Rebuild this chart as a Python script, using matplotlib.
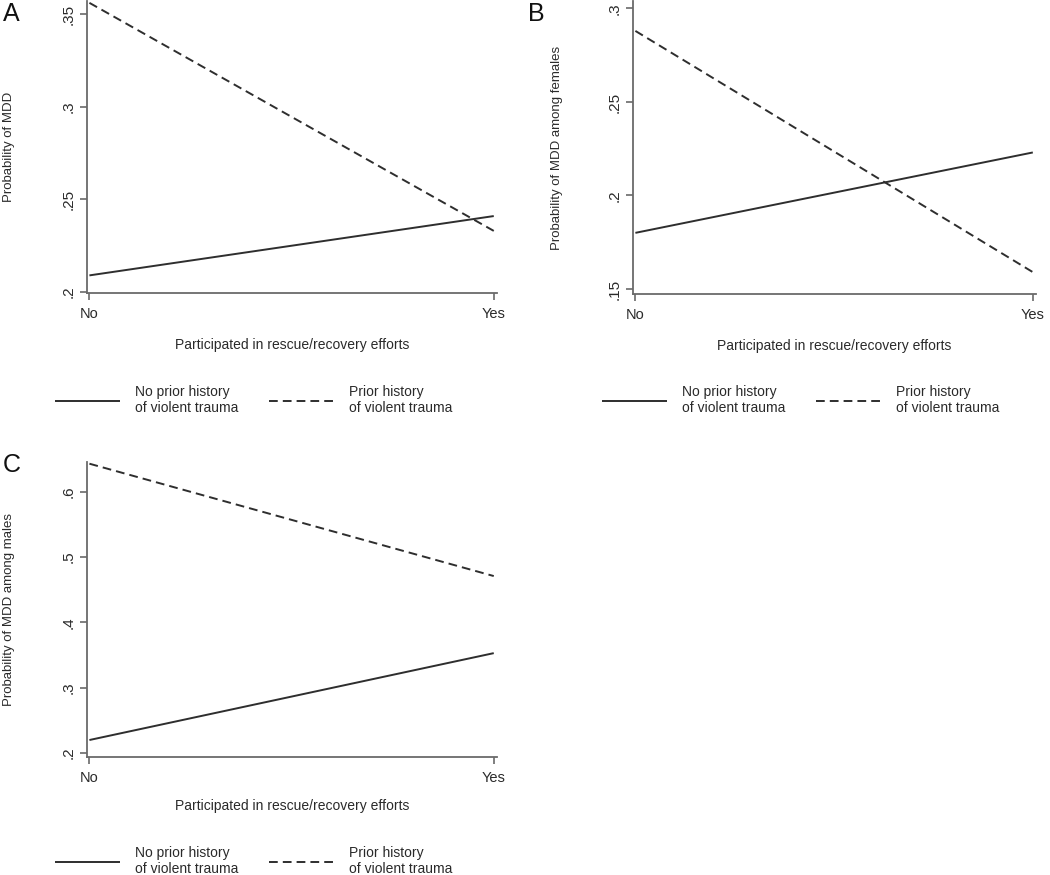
import matplotlib
matplotlib.use('Agg')
import matplotlib.pyplot as plt

plt.rcParams['font.family'] = ['Liberation Sans', 'DejaVu Sans']

# x categories
x_labels = ['No', 'Yes']
x_pos = [0, 1]

# predicted probabilities
a_no_hist = [0.209, 0.241]
a_hist = [0.356, 0.233]
b_no_hist = [0.180, 0.223]
b_hist = [0.288, 0.159]
c_no_hist = [0.220, 0.353]
c_hist = [0.643, 0.471]

a_ticks = [0.2, 0.25, 0.3, 0.35]
a_ticklabels = ['.2', '.25', '.3', '.35']
b_ticks = [0.15, 0.2, 0.25, 0.3]
b_ticklabels = ['.15', '.2', '.25', '.3']
c_ticks = [0.2, 0.3, 0.4, 0.5, 0.6]
c_ticklabels = ['.2', '.3', '.4', '.5', '.6']

leg_labels = ['No prior history\nof violent trauma', 'Prior history\nof violent trauma']

line_col = '#2e2e2e'
axis_col = '#6a6a6a'
text_col = '#2a2a2a'
W, H = 1050, 875


def px_rect(left, top, right, bottom):
    return [left / W, 1 - bottom / H, (right - left) / W, (bottom - top) / H]


def draw_panel(fig, rect, no_hist, hist, ticks, ticklabels, ylim, ylabel, letter,
               letter_xy, ylab_x, leg_xy, xlab_pad):
    ax = fig.add_axes(px_rect(*rect))
    ax.plot(x_pos, no_hist, color=line_col, lw=1.4, solid_capstyle='butt')
    ax.plot(x_pos, hist, color=line_col, lw=1.4, dashes=(4.5, 2.6))
    ax.set_xlim(-0.006, 1.008)
    ax.set_ylim(*ylim)
    for s in ['top', 'right']:
        ax.spines[s].set_visible(False)
    for s in ['left', 'bottom']:
        ax.spines[s].set_color(axis_col)
        ax.spines[s].set_linewidth(1.3)
    ax.set_xticks(x_pos)
    ax.set_xticklabels(x_labels, fontsize=10.5, color=text_col)
    ax.set_yticks(ticks)
    ax.set_yticklabels(ticklabels, fontsize=11, color=text_col, rotation=90, va='center')
    ax.tick_params(axis='both', colors=axis_col, labelcolor=text_col, length=5, width=1.2)
    ax.tick_params(axis='x', pad=5)
    ax.tick_params(axis='y', pad=3)
    ax.set_xlabel('Participated in rescue/recovery efforts', fontsize=10, color=text_col,
                  labelpad=xlab_pad)
    ax.set_ylabel(ylabel, fontsize=9.5, color=text_col)
    axw = rect[2] - rect[0]
    ax.yaxis.set_label_coords((ylab_x - rect[0]) / axw, 0.5)
    fig.text(letter_xy[0] / W, 1 - letter_xy[1] / H, letter, fontsize=18, color='#111111',
             ha='left', va='center')
    leg = ax.legend(leg_labels, loc='center left', bbox_to_anchor=(leg_xy[0] / W, 1 - leg_xy[1] / H),
                    bbox_transform=fig.transFigure, ncol=2, frameon=False, fontsize=10,
                    handlelength=4.7, handletextpad=1.05, columnspacing=2.2, borderpad=0,
                    borderaxespad=0, labelspacing=0)
    for t in leg.get_texts():
        t.set_color(text_col)
        t.set_linespacing(1.1)
    return ax


fig = plt.figure(figsize=(10.5, 8.75), dpi=100)

draw_panel(fig, (87, 1, 497, 293), a_no_hist, a_hist, a_ticks, a_ticklabels, (0.1995, 0.357),
           'Probability of MDD', 'A', (3, 14), 15, (55, 400), 12)
draw_panel(fig, (633, 1, 1036, 294), b_no_hist, b_hist, b_ticks, b_ticklabels, (0.1473, 0.304),
           'Probability of MDD among females', 'B', (528, 14), 563, (602, 400), 12)
draw_panel(fig, (87, 462, 497, 757), c_no_hist, c_hist, c_ticks, c_ticklabels, (0.194, 0.6456),
           'Probability of MDD among males', 'C', (3, 465), 15, (55, 861), 10.5)

fig.savefig('out.png', dpi=100, facecolor='white')
